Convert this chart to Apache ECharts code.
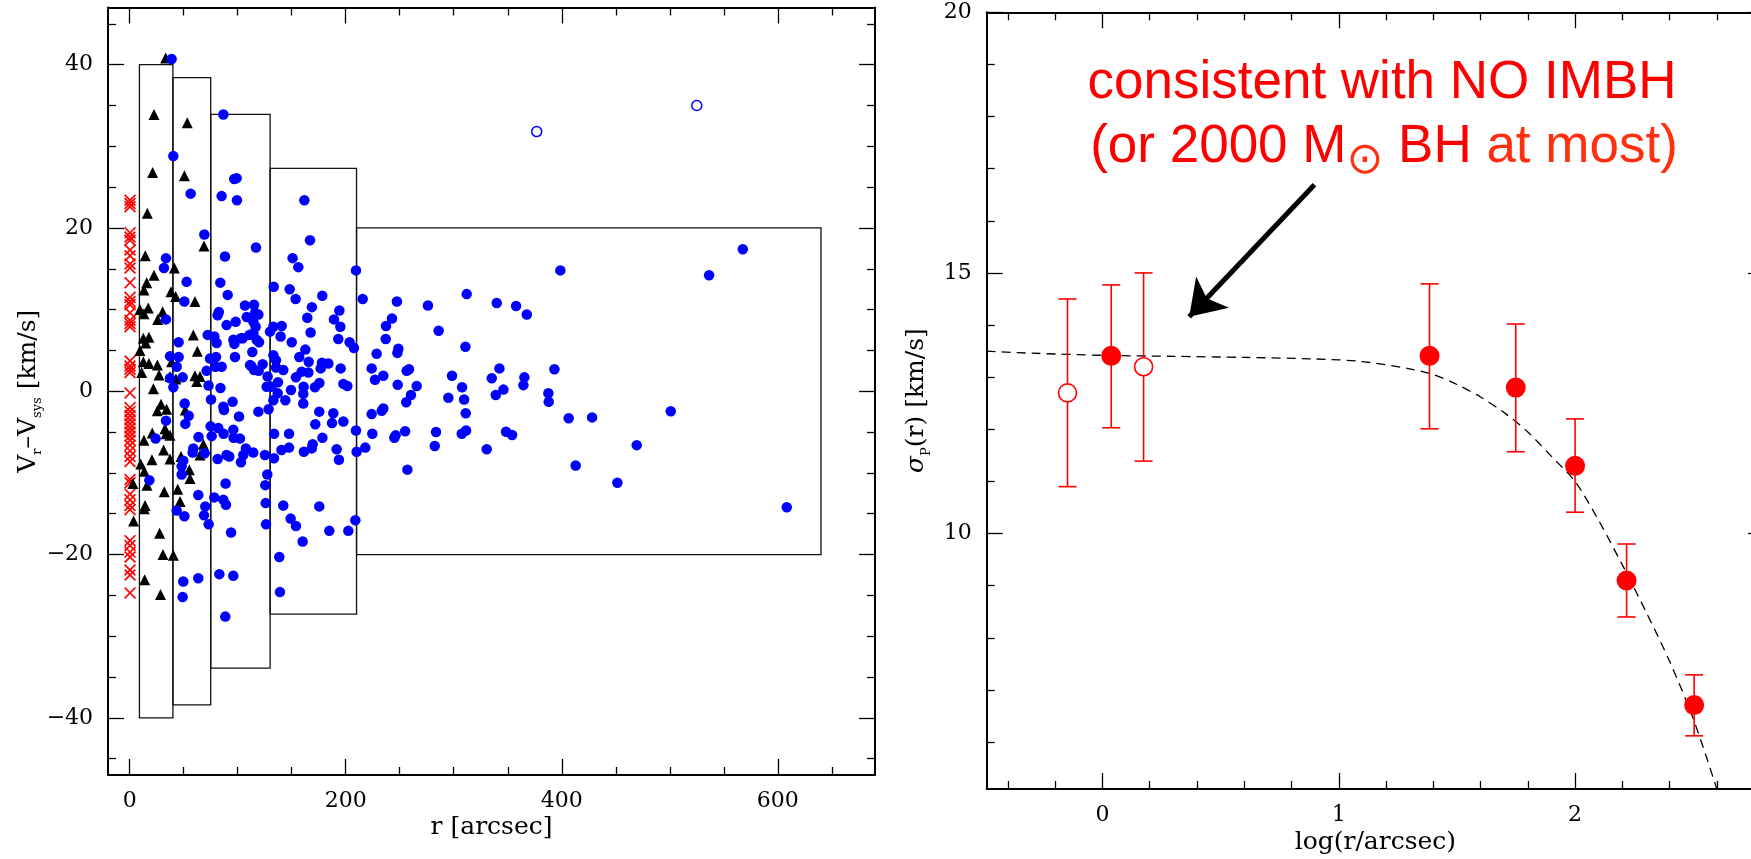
<!DOCTYPE html>
<html><head><meta charset="utf-8">
<script src="https://cdn.jsdelivr.net/npm/echarts@6/dist/echarts.min.js"></script>
<style>html,body{margin:0;padding:0;background:#fff}#c{width:1751px;height:859px}</style>
</head><body><div id="c"></div>
<script>
// ---------- LEFT PANEL DATA ----------
const xTicksLeftMajor = [0, 200, 400, 600];
const xTicksLeftMinor = [50, 100, 150, 250, 300, 350, 450, 500, 550, 650];
const yTicksLeftMajor = [-40, -20, 0, 20, 40];
const yTicksLeftMinor = [-45, -35, -30, -25, -15, -10, -5, 5, 10, 15, 25, 30, 35, 45];

const binEdges = [9, 40, 75, 130, 210, 640];
const binHalfHeight = [40, 38.4, 33.9, 27.3, 20];

const crosses = [[0.3,23.4],[0.3,23.0],[0.3,22.6],[0.3,19.4],[0.3,18.9],[0.3,18.5],[0.3,17.3],[0.3,16.6],[0.3,15.6],[0.3,15.1],[0.3,13.3],[0.3,11.5],[0.3,11.0],[0.3,10.6],[0.3,9.6],[0.3,8.7],[0.3,8.3],[0.3,7.9],[0.3,3.7],[0.3,3.1],[0.3,2.7],[0.3,2.3],[0.3,-0.2],[0.3,-2.0],[0.3,-2.5],[0.3,-3.0],[0.3,-3.5],[0.3,-4.0],[0.3,-4.5],[0.3,-5.0],[0.3,-5.5],[0.3,-6.0],[0.3,-6.6],[0.3,-7.3],[0.3,-8.0],[0.3,-8.6],[0.3,-10.8],[0.3,-11.2],[0.3,-12.6],[0.3,-13.3],[0.3,-14.0],[0.3,-14.5],[0.3,-18.3],[0.3,-18.9],[0.3,-19.7],[0.3,-20.3],[0.3,-21.9],[0.3,-22.5],[0.3,-24.7]];

const triangles = [[33.3,40.8],[22.5,33.9],[53.3,32.9],[21.2,26.8],[50.6,26.4],[16.3,21.8],[68.8,17.8],[14.4,16.6],[41.3,15.1],[22.5,14.2],[15.7,13.3],[13.2,12.4],[38.2,12.2],[42.5,11.6],[60.4,11.0],[9.5,10.0],[17.2,10.2],[13.2,9.5],[30.5,9.75],[25.9,8.8],[58.9,6.9],[12.6,6.5],[17.8,6.6],[14.8,5.9],[9.5,5.0],[62.6,4.9],[12.6,3.6],[17.8,3.4],[11.1,2.3],[25.6,3.2],[27.1,2.0],[38.8,3.6],[37.3,1.8],[42.8,1.5],[60.4,1.9],[65.1,1.8],[62.0,1.2],[21.9,0.3],[29.0,-1.6],[34.2,-2.2],[25.6,-2.4],[51.5,-2.3],[32.7,-4.6],[33.6,-5.2],[37.3,-5.4],[20.9,-5.1],[13.2,-6.0],[31.4,-7.2],[20.6,-8.4],[10.2,-8.9],[13.5,-9.8],[37.3,-8.3],[47.5,-8.0],[55.2,-9.6],[55.8,-10.7],[68.2,-6.5],[65.1,-7.8],[3.0,-11.3],[16.0,-11.5],[32.0,-12.3],[44.4,-12.0],[46.6,-13.5],[14.2,-14.0],[13.5,-14.4],[3.6,-15.9],[27.7,-17.4],[30.8,-20.0],[40.4,-20.1],[13.8,-23.1],[28.5,-24.9]];

const blueFilled = [[38.8,40.7],[86.7,33.9],[40.4,28.8],[56.4,24.2],[85.1,23.9],[96.8,26.0],[99.0,26.1],[99.3,23.4],[161.7,23.4],[166.9,18.5],[69.1,19.2],[116.9,17.6],[33.6,16.3],[31.7,15.1],[88.2,16.5],[150.8,16.3],[156.1,15.2],[209.5,14.8],[52.7,13.4],[83.9,13.3],[90.7,11.8],[133.3,12.8],[148.1,12.5],[153.6,11.3],[178.3,11.7],[215.7,11.3],[247.4,11.0],[276.1,10.5],[50.6,11.0],[168.7,10.3],[194.1,9.9],[106.7,10.5],[115.1,10.6],[81.4,9.3],[82.5,9.7],[108.3,9.1],[116.0,9.6],[119.1,9.4],[89.7,8.1],[98.1,8.5],[33.6,8.8],[114.5,8.5],[116.6,7.9],[164.4,9.0],[189.1,8.8],[195.0,7.9],[237.3,8.0],[242.8,8.9],[286.0,7.4],[140.7,8.0],[133.0,7.9],[129.9,7.3],[167.5,7.2],[114.5,7.1],[110.8,6.9],[104.6,6.5],[96.0,6.3],[117.5,6.3],[119.7,6.0],[72.2,6.9],[78.4,6.7],[80.5,5.9],[45.3,6.0],[139.7,6.7],[150.0,6.0],[193.1,6.4],[203.6,6.0],[207.6,5.3],[237.0,6.4],[248.7,5.2],[247.8,4.7],[228.6,4.6],[162.6,5.1],[157.0,4.2],[165.7,3.6],[178.0,3.5],[183.9,3.4],[113.5,4.8],[97.5,4.2],[96.9,5.8],[102.9,6.5],[112.6,3.1],[119.4,2.5],[123.1,3.3],[133.0,4.4],[135.4,3.8],[135.5,2.9],[142.2,2.6],[153.9,1.7],[159.2,2.4],[165.4,2.3],[176.8,2.8],[195.3,2.8],[224.0,2.8],[227.1,1.4],[234.8,1.9],[256.4,2.5],[258.6,2.7],[248.1,0.8],[265.7,0.65],[197.8,0.9],[201.5,0.65],[175.6,1.0],[171.5,0.5],[149.3,0.15],[137.3,1.1],[127.7,1.8],[126.8,0.55],[131.4,0.55],[161.0,0.55],[160.7,-0.3],[73.0,0.7],[84.0,0.4],[49.0,1.7],[37.3,1.6],[40.4,0.5],[79.4,3.0],[74.3,4.0],[79.9,4.2],[71.2,2.5],[85.1,3.0],[43.5,3.0],[37.3,4.3],[45.3,4.2],[111.4,3.2],[115.1,2.6],[312.0,11.9],[339.8,10.8],[357.7,10.45],[367.6,9.4],[398.7,14.8],[536.4,14.2],[567.6,17.4],[310.8,5.45],[298.4,1.9],[335.2,1.6],[342.3,2.8],[365.4,1.7],[364.5,0.75],[393.2,2.7],[307.7,0.5],[346.0,0.2],
[295.0,-0.8],[256.0,-1.35],[260.4,-0.45],[309.6,-1.0],[338.9,-0.45],[387.6,-0.25],[387.9,-1.3],[311.1,-2.7],[406.4,-3.3],[428.1,-3.2],[500.9,-2.45],[255.0,-4.9],[283.6,-5.0],[307.4,-5.2],[311.4,-4.8],[348.4,-4.95],[354.0,-5.35],[282.4,-6.7],[330.5,-7.1],[257.1,-9.6],[412.9,-9.1],[469.4,-6.6],[451.5,-11.2],[608.3,-14.2],[50.9,-1.5],[54.6,-3.0],[51.5,-4.0],[74.9,-4.3],[82.0,-4.5],[86.7,-1.9],[87.3,-2.3],[95.3,-1.3],[101.2,-3.1],[119.1,-2.5],[128.6,-2.2],[133.0,-1.1],[144.1,-1.1],[137.0,-0.25],[75.3,-1.0],[171.8,-4.05],[175.5,-2.5],[187.3,-3.9],[188.5,-2.7],[197.8,-3.7],[224.0,-2.8],[233.3,-2.4],[234.8,-2.1],[209.5,-4.8],[33.6,-3.6],[24.0,-5.8],[63.7,-5.6],[75.9,-5.5],[86.9,-5.2],[96.2,-5.7],[102.1,-5.8],[95.9,-4.7],[58.9,-7.0],[58.3,-7.5],[69.4,-7.6],[81.4,-8.3],[89.7,-7.8],[92.2,-8.0],[103.0,-8.7],[105.2,-7.8],[107.6,-7.0],[114.4,-7.5],[125.2,-7.8],[133.6,-8.2],[127.4,-10.2],[125.5,-11.5],[125.9,-13.7],[126.2,-16.3],[140.5,-7.2],[147.5,-6.9],[147.5,-5.2],[133.7,-5.2],[161.3,-7.4],[169.4,-6.5],[168.5,-7.0],[178.4,-5.7],[191.6,-7.1],[193.7,-8.4],[210.1,-7.4],[218.1,-6.9],[224.6,-5.2],[245.0,-5.7],[246.2,-5.4],[160.7,-1.5],[48.1,-9.2],[49.6,-8.5],[48.1,-10.2],[18.2,-10.9],[63.5,-12.7],[78.3,-13.0],[86.7,-13.3],[89.1,-13.9],[88.8,-11.3],[70.0,-14.1],[68.8,-15.2],[73.1,-16.3],[93.8,-17.3],[43.5,-14.6],[50.6,-15.3],[142.2,-14.0],[149.0,-15.6],[153.9,-16.5],[160.1,-18.4],[175.5,-14.1],[184.8,-17.1],[202.4,-17.1],[208.9,-15.8],[138.5,-20.3],[139.1,-24.6],[49.6,-23.3],[49.0,-25.2],[63.5,-22.9],[83.0,-22.4],[95.9,-22.6],[88.5,-27.6]];

const blueOpen = [[376.8,31.8],[525.0,35.0]];

// ---------- RIGHT PANEL DATA ----------
const xTicksRightMajor = [0, 1, 2];
const xTicksRightMinor = [-0.4, -0.2, 0.2, 0.4, 0.6, 0.8, 1.2, 1.4, 1.6, 1.8, 2.2, 2.4, 2.6];
const yTicksRightMajor = [10, 15, 20];
const yTicksRightMinor = [6, 7, 8, 9, 11, 12, 13, 14, 16, 17, 18, 19];

const logRFilled = [0.037, 1.384, 1.749, 2.0, 2.218, 2.504];
const sigmaFilled = [13.41, 13.41, 12.80, 11.30, 9.10, 6.71];
const sigmaFilledLo = [12.03, 12.01, 11.57, 10.41, 8.40, 6.12];
const sigmaFilledHi = [14.77, 14.79, 14.02, 12.20, 9.80, 7.29];

const logROpen = [-0.148, 0.174];
const sigmaOpen = [12.70, 13.20];
const sigmaOpenLo = [10.90, 11.39];
const sigmaOpenHi = [14.50, 15.00];

const modelLogR = [-0.49, -0.3, 0.0, 0.3, 0.6, 0.9, 1.1, 1.3, 1.4, 1.5, 1.6, 1.7, 1.8, 1.9, 2.0, 2.1, 2.2, 2.3, 2.4, 2.5, 2.6];
const modelSigma = [13.50, 13.46, 13.42, 13.40, 13.38, 13.35, 13.30, 13.16, 13.05, 12.86, 12.62, 12.32, 11.95, 11.48, 11.0, 10.25, 9.40, 8.50, 7.55, 6.45, 5.1];

const arrowFrom = [0.897, 16.69];
const arrowTo = [0.367, 14.16];

// ---------- BUILD ----------
const LBL_FONT = 'DejaVu Serif';
const minusFmt = v => String(v).replace('-', '\u2212');
function axisSet(kind, grid, min, max, majors, minors, nameCfg) {
  const isX = kind === 'x';
  const posA = isX ? 'bottom' : 'left', posB = isX ? 'top' : 'right';
  const tickStyle = { color: '#000', width: 1.3 };
  const lineOn = { show: true, onZero: false, lineStyle: { color: '#000', width: 2 } };
  const lineOff = { show: false, onZero: false };
  const base = { type: 'value', gridIndex: grid, min: min, max: max, scale: true, splitLine: { show: false }, minorTick: { show: false }, silent: true };
  const main = Object.assign({}, base, {
    position: posA, axisLine: lineOn,
    axisTick: { show: true, inside: true, length: 16, customValues: majors, lineStyle: tickStyle },
    axisLabel: { show: true, customValues: majors, margin: 15, fontFamily: LBL_FONT, fontSize: 22, color: '#000', formatter: minusFmt }
  }, nameCfg || {});
  return [
    main,
    Object.assign({}, base, { position: posA, axisLine: lineOff, axisTick: { show: true, inside: true, length: 8, customValues: minors, lineStyle: tickStyle }, axisLabel: { show: false } }),
    Object.assign({}, base, { position: posB, axisLine: lineOn, axisTick: { show: true, inside: true, length: 16, customValues: majors, lineStyle: tickStyle }, axisLabel: { show: false } }),
    Object.assign({}, base, { position: posB, axisLine: lineOff, axisTick: { show: true, inside: true, length: 8, customValues: minors, lineStyle: tickStyle }, axisLabel: { show: false } })
  ];
}

const nameStyleBase = { fontFamily: LBL_FONT, fontSize: 25, color: '#000' };

const xAxes = [].concat(
  axisSet('x', 0, -20, 690, xTicksLeftMajor, xTicksLeftMinor, { name: 'r [arcsec]', nameLocation: 'middle', nameGap: 40, nameMoveOverlap: false, nameTextStyle: nameStyleBase }),
  axisSet('x', 1, -0.49, 2.8, xTicksRightMajor, xTicksRightMinor, { name: 'log(r/arcsec)', nameLocation: 'middle', nameGap: 41, nameMoveOverlap: false, nameTextStyle: nameStyleBase })
);
const yAxes = [].concat(
  axisSet('y', 0, -47, 47, yTicksLeftMajor, yTicksLeftMinor, {
    name: '{m|V}{s|r}{m|\u2013V}{s|sys}{m| [km/s]}', nameLocation: 'middle', nameGap: 64, nameRotate: 90, nameMoveOverlap: false,
    nameTextStyle: { color: '#000', rich: {
      m: { fontFamily: LBL_FONT, fontSize: 25, lineHeight: 32, color: '#000' },
      s: { fontFamily: LBL_FONT, fontSize: 13, lineHeight: 14, verticalAlign: 'bottom', color: '#000' } } }
  }),
  axisSet('y', 1, 5.1, 20, yTicksRightMajor, yTicksRightMinor, {
    name: '{g|\u03c3}{s|P}{m|(r) [km/s]}', nameLocation: 'middle', nameGap: 54, nameRotate: 90, nameMoveOverlap: false,
    nameTextStyle: { color: '#000', rich: {
      g: { fontFamily: LBL_FONT, fontStyle: 'italic', fontSize: 25, lineHeight: 32, color: '#000' },
      m: { fontFamily: LBL_FONT, fontSize: 25, lineHeight: 32, color: '#000' },
      s: { fontFamily: LBL_FONT, fontSize: 13, lineHeight: 14, verticalAlign: 'bottom', color: '#000' } } }
  })
);

const binData = binHalfHeight.map((h, i) => [binEdges[i], binEdges[i + 1], h]);
const errFilled = logRFilled.map((x, i) => [x, sigmaFilledLo[i], sigmaFilledHi[i]]);
const errOpen = logROpen.map((x, i) => [x, sigmaOpenLo[i], sigmaOpenHi[i]]);
const errAll = errOpen.concat(errFilled);
const filledPts = logRFilled.map((x, i) => [x, sigmaFilled[i]]);
const openPts = logROpen.map((x, i) => [x, sigmaOpen[i]]);
const modelPts = modelLogR.map((x, i) => [x, modelSigma[i]]);

const crossPath = 'path://M0,1 L1,0 L5,4 L9,0 L10,1 L6,5 L10,9 L9,10 L5,6 L1,10 L0,9 L4,5 Z';
const noEmph = { disabled: true };

const option = {
  animation: false,
  backgroundColor: '#fff',
  grid: [
    { left: 108.1, top: 7.5, width: 766.9, height: 767.5, containLabel: false, outerBoundsMode: 'none' },
    { left: 986.7, top: 12.3, width: 777.4, height: 776.7, containLabel: false, outerBoundsMode: 'none' }
  ],
  xAxis: xAxes,
  yAxis: yAxes,
  series: [
    { type: 'custom', xAxisIndex: 0, yAxisIndex: 0, data: binData, silent: true, z: 1,
      renderItem: (params, api) => {
        const p0 = api.coord([api.value(0), api.value(2)]);
        const p1 = api.coord([api.value(1), -api.value(2)]);
        return { type: 'rect', shape: { x: p0[0], y: p0[1], width: p1[0] - p0[0], height: p1[1] - p0[1] },
          style: { fill: 'none', stroke: '#111', lineWidth: 1.3 } };
      } },
    { type: 'scatter', xAxisIndex: 0, yAxisIndex: 0, data: crosses, symbol: crossPath, symbolSize: 12, itemStyle: { color: '#ff0000', opacity: 1 }, emphasis: noEmph, silent: true, z: 2 },
    { type: 'scatter', xAxisIndex: 0, yAxisIndex: 0, data: triangles, symbol: 'triangle', symbolSize: 11, itemStyle: { color: '#000', opacity: 1 }, emphasis: noEmph, silent: true, z: 3 },
    { type: 'scatter', xAxisIndex: 0, yAxisIndex: 0, data: blueFilled, symbol: 'circle', symbolSize: 10.5, itemStyle: { color: '#0000ff', opacity: 1 }, emphasis: noEmph, silent: true, z: 4 },
    { type: 'scatter', xAxisIndex: 0, yAxisIndex: 0, data: blueOpen, symbol: 'circle', symbolSize: 10, itemStyle: { color: '#fff', borderColor: '#0000ff', borderWidth: 1.5, opacity: 1 }, emphasis: noEmph, silent: true, z: 4 },

    { type: 'line', xAxisIndex: 4, yAxisIndex: 4, data: modelPts, showSymbol: false, smooth: 0.3, clip: true, silent: true, z: 2,
      lineStyle: { color: '#000', width: 1.3, type: [9, 6] },
      markLine: { silent: true, symbol: ['none', 'arrow'], symbolSize: 34, animation: false,
        lineStyle: { color: '#000', width: 5, type: 'solid' }, label: { show: false },
        emphasis: noEmph,
        data: [[{ coord: arrowFrom }, { coord: arrowTo }]] } },
    { type: 'custom', xAxisIndex: 4, yAxisIndex: 4, data: errAll, silent: true, z: 3,
      renderItem: (params, api) => {
        const x = api.value(0);
        const a = api.coord([x, api.value(2)]);
        const b = api.coord([x, api.value(1)]);
        const w = 9;
        const st = { stroke: '#ff0000', lineWidth: 1.6 };
        return { type: 'group', children: [
          { type: 'line', shape: { x1: a[0], y1: a[1], x2: b[0], y2: b[1] }, style: st },
          { type: 'line', shape: { x1: a[0] - w, y1: a[1], x2: a[0] + w, y2: a[1] }, style: st },
          { type: 'line', shape: { x1: b[0] - w, y1: b[1], x2: b[0] + w, y2: b[1] }, style: st }
        ] };
      } },
    { type: 'scatter', xAxisIndex: 4, yAxisIndex: 4, data: filledPts, symbol: 'circle', symbolSize: 20, itemStyle: { color: '#ff0000', opacity: 1 }, emphasis: noEmph, silent: true, z: 4 },
    { type: 'scatter', xAxisIndex: 4, yAxisIndex: 4, data: openPts, symbol: 'circle', symbolSize: 18, itemStyle: { color: '#fff', borderColor: '#ff0000', borderWidth: 1.6, opacity: 1 }, emphasis: noEmph, silent: true, z: 4 }
  ],
  graphic: [
    { type: 'text', x: 1382, y: 83, silent: true, z: 10,
      style: { text: 'consistent with NO IMBH', fill: '#ff0000', fontFamily: 'Liberation Sans', fontSize: 53, align: 'center', verticalAlign: 'middle' } },
    { type: 'text', x: 1384, y: 147, silent: true, z: 10,
      style: { text: '{r|(or 2000 M}{sun|\u2299}{r| BH }{o|at most)}', align: 'center', verticalAlign: 'middle',
        rich: {
          r: { fill: '#ff0000', fontFamily: 'Liberation Sans', fontSize: 53, lineHeight: 74 },
          sun: { fill: '#ff3010', fontFamily: 'DejaVu Sans', fontSize: 44, lineHeight: 48, verticalAlign: 'bottom' },
          o: { fill: '#ff3010', fontFamily: 'Liberation Sans', fontSize: 53, lineHeight: 74 }
        } } }
  ]
};

const chart = echarts.init(document.getElementById('c'), null, { renderer: 'canvas' });
chart.setOption(option);
</script></body></html>
